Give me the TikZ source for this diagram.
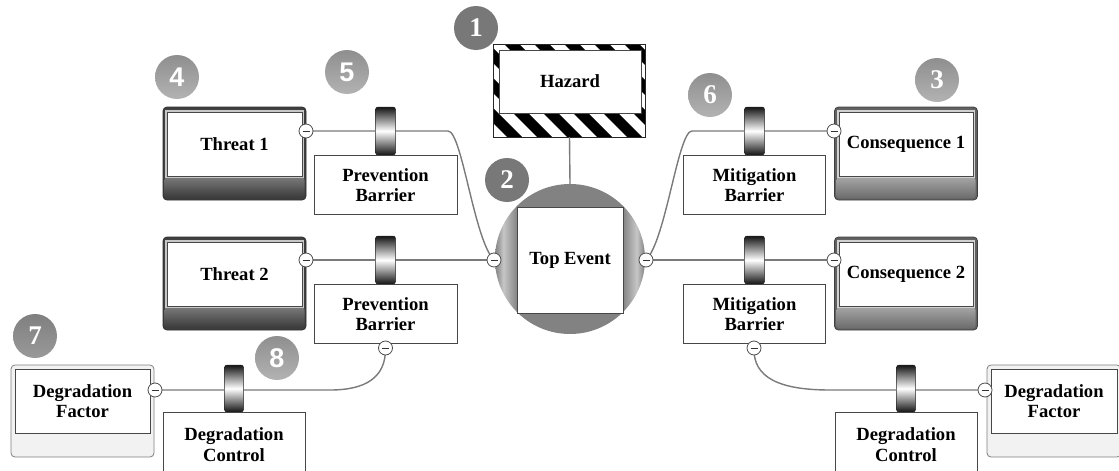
\documentclass[tikz,border=0pt]{standalone}
\usepackage{fontspec}
\setmainfont{Liberation Serif}
\newfontfamily\numsans{Liberation Sans}
\definecolor{conncol}{HTML}{7A7A7A}
\definecolor{teg}{HTML}{828282}
\definecolor{tel}{HTML}{C6C6C6}
\pgfdeclarehorizontalshading{teshade}{100bp}{color(0bp)=(teg); color(25bp)=(teg); color(27.8bp)=(tel); color(32.5bp)=(teg); color(67.5bp)=(teg); color(72.2bp)=(tel); color(75bp)=(teg); color(100bp)=(teg)}
\begin{document}
\begin{tikzpicture}[x=1pt,y=-1pt,
  lbl/.style={font=\bfseries\fontsize{18.6}{20.5}\selectfont, align=center},
  whitebox/.style={lbl, draw=black!72, line width=0.9pt, fill=white, inner sep=0pt},
  conn/.style={draw=conncol, line width=1.4pt},
  dotnode/.style={circle, draw=black!70, line width=0.8pt, fill=white, minimum size=14pt, inner sep=0pt,
    path picture={\draw[black!80, line width=1pt] ([xshift=-3.5pt]path picture bounding box.center) -- ([xshift=3.5pt]path picture bounding box.center);}},
  cylnode/.style={rectangle, rounded corners=2.5pt, minimum width=20pt, minimum height=48pt, inner sep=0pt,
    top color=black!92, bottom color=black!92, middle color=white, draw=black!85, line width=0.5pt},
  ballA/.style={circle, minimum size=44pt, inner sep=0pt, fill=black!53, text=white, font=\bfseries\fontsize{27}{27}\selectfont},
  ballB/.style={ballA, fill=none, top color=black!44, bottom color=black!30},
  ballC/.style={ballA, fill=none, top color=black!50, bottom color=black!40},
  sansnum/.style={font=\numsans\bfseries\fontsize{27}{27}\selectfont},
  darkframe/.style={rectangle, rounded corners=4pt, minimum width=143pt, minimum height=93pt, inner sep=0pt, fill=black!75, draw=black!82, line width=0.8pt},
  midframe/.style={darkframe, fill=black!62, draw=black!75},
  lightframe/.style={rectangle, rounded corners=4pt, minimum height=92pt, inner sep=0pt, fill=black!5, draw=black!50, line width=0.8pt}
]
\useasboundingbox (0,0) rectangle (1119,471);
\clip (0,0) rectangle (1119,471);

% ---------- hazard and top event ----------
\node[minimum width=151pt, minimum height=92pt, inner sep=0pt, fill=white] (hzf) at (569.5,91) {};
\begin{scope}[even odd rule]
  \clip (494,45) rectangle (645,137) (499,50) rectangle (641,113);
  \foreach \i in {-2,...,8}
    \fill[black] ({440+\i*30},40) -- ++(15,0) -- ++(100,100) -- ++(-15,0) -- cycle;
\end{scope}
\draw[black!85, line width=1pt] (hzf.north west) rectangle (hzf.south east);
\node[whitebox, minimum width=142pt, minimum height=63pt] (hz) at (570,81.5) {Hazard};

\node[circle, minimum size=150pt, inner sep=0pt, shading=teshade] (te) at (570,259) {};
\draw[conn] (hzf.south) -- (te.north);
\node[whitebox, minimum width=106pt, minimum height=106pt] (top) at (570,260) {Top Event};

% ---------- threats and consequences ----------
\foreach \n/\l/\t/\txt in {t1/163/107/Threat 1, t2/163/237/Threat 2}{
  \node[darkframe] (\n f) at ({\l+71.5},{\t+46.5}) {};
  \shade[top color=black!52, bottom color=black!78, rounded corners=3pt] ({\l+1.5},{\t+70}) rectangle ({\l+141.5},{\t+91.5});
  \draw[black!22, line width=2pt] ({\l+3},{\t+4}) rectangle ({\l+140},{\t+70});
  \node[whitebox, minimum width=135pt, minimum height=64pt] (\n) at ({\l+71.5},{\t+37}) {\txt};
}
\foreach \n/\l/\t/\txt in {c1/835/107/Consequence 1, c2/835/237/Consequence 2}{
  \node[midframe] (\n f) at ({\l+71},{\t+46.5}) {};
  \shade[top color=black!35, bottom color=black!58, rounded corners=3pt] ({\l+1.5},{\t+70}) rectangle ({\l+140.5},{\t+91.5});
  \draw[black!18, line width=2pt] ({\l+3},{\t+4}) rectangle ({\l+139},{\t+70});
  \node[whitebox, minimum width=134pt, minimum height=64pt] (\n) at ({\l+71},{\t+37}) {\txt};
}

% ---------- degradation factors ----------
\node[lightframe, minimum width=143pt] (dflf) at (82.5,411) {};
\node[whitebox, minimum width=135pt, minimum height=64pt] (dfl) at (82.5,401) {Degradation\\Factor};
\node[lightframe, minimum width=134pt] (dfrf) at (1054,411) {};
\node[whitebox, minimum width=126pt, minimum height=64pt] (dfr) at (1054,401) {Degradation\\Factor};

% ---------- connector end points ----------
\coordinate (dT1) at (306,131);
\coordinate (dT2) at (306,260);
\coordinate (dC1) at (834,131);
\coordinate (dC2) at (834,260);
\coordinate (dTL) at (494,260);
\coordinate (dTR) at (646,260);
\coordinate (dDL) at (155,390);
\coordinate (dDR) at (985,390);
\coordinate (dPB) at (385.5,348);
\coordinate (dMB) at (754,348);

\coordinate (bT1) at (448,131);
\coordinate (bC1) at (692,131);
\coordinate (bDL) at (330,390);
\coordinate (bDR) at (830,390);

% ---------- connectors ----------
\draw[conn] (dT1) -- (bT1) .. controls (462,131) and (474,240) .. (dTL);
\draw[conn] (dT2) -- (dTL);
\draw[conn] (dC1) -- (bC1) .. controls (678,131) and (666,240) .. (dTR);
\draw[conn] (dC2) -- (dTR);
\draw[conn] (dPB) .. controls (386,378) and (365,390) .. (bDL) -- (dDL);
\draw[conn] (dMB) .. controls (753,378) and (780,390) .. (bDR) -- (dDR);

% ---------- barriers ----------
\node[cylnode] (cP1) at (385.5,131) {};
\node[whitebox, minimum width=143pt, minimum height=59pt, anchor=north] (pb1) at (cP1.south) {Prevention\\Barrier};
\node[cylnode] (cP2) at (385.5,260) {};
\node[whitebox, minimum width=143pt, minimum height=59pt, anchor=north] (pb2) at (cP2.south) {Prevention\\Barrier};
\node[cylnode] (cM1) at (754.5,131) {};
\node[whitebox, minimum width=142pt, minimum height=59pt, anchor=north] (mb1) at (cM1.south) {Mitigation\\Barrier};
\node[cylnode] (cM2) at (754.5,260) {};
\node[whitebox, minimum width=142pt, minimum height=59pt, anchor=north] (mb2) at (cM2.south) {Mitigation\\Barrier};
\node[cylnode, minimum width=19pt, minimum height=47pt] (cDL) at (234,388.5) {};
\node[whitebox, minimum width=142pt, minimum height=64pt, anchor=north] (dcl) at (cDL.south) {Degradation\\Control};
\node[cylnode, minimum width=19pt, minimum height=47pt] (cDR) at (906,388.5) {};
\node[whitebox, minimum width=142pt, minimum height=64pt, anchor=north] (dcr) at (cDR.south) {Degradation\\Control};

% ---------- minus markers at the connector ends ----------
\foreach \p in {dT1, dT2, dC1, dC2, dTL, dTR, dDL, dDR, dPB, dMB}
  \node[dotnode] (m-\p) at (\p) {};

% ---------- numbered markers ----------
\node[ballA] (n1) at (476,28) {1};
\node[ballA] (n2) at (507,180) {2};
\node[ballB] (n3) at (937,80) {3};
\node[ballB, sansnum] (n4) at (177,77) {4};
\node[ballB, sansnum] (n5) at (347,72) {5};
\node[ballB] (n6) at (710,95) {6};
\node[ballC] (n7) at (35,336) {7};
\node[ballB, sansnum] (n8) at (277,358) {8};
\end{tikzpicture}
\end{document}
